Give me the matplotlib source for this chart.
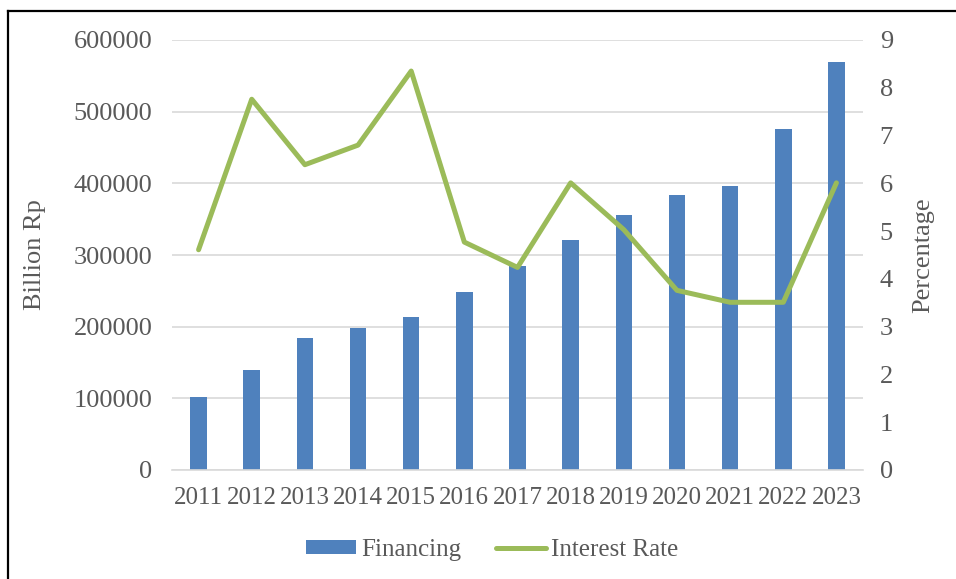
import matplotlib
matplotlib.use("Agg")
import matplotlib.pyplot as plt
from matplotlib.patches import Patch
from matplotlib.lines import Line2D
import numpy as np

years = ["2011", "2012", "2013", "2014", "2015", "2016", "2017",
         "2018", "2019", "2020", "2021", "2022", "2023"]
financing = [101600, 139800, 183500, 198500, 212900, 247900, 285100,
             320500, 355500, 384000, 396500, 475200, 569300]
interest_rate = [4.61, 7.76, 6.39, 6.80, 8.35, 4.77, 4.24,
                 6.01, 5.03, 3.76, 3.51, 3.51, 6.01]

BLUE = "#4f81bd"
GREEN = "#9bbb59"
TEXT = "#595959"
GRID = "#d9d9d9"

plt.rcParams["font.family"] = ["Liberation Serif", "DejaVu Serif"]
FS = 18
FS_Y = 19

fig = plt.figure(figsize=(9.56, 5.79), dpi=100)
ax = fig.add_axes([172 / 956, 1 - 470 / 579, 691 / 956, 430 / 579])
ax2 = ax.twinx()

x = np.arange(len(years))
ax.bar(x, financing, width=0.31, color=BLUE, zorder=2)
ax2.plot(x, interest_rate, color=GREEN, lw=3.6, solid_capstyle="round",
         solid_joinstyle="round", zorder=3)

ax.set_xlim(-0.5, len(years) - 0.5)
ax.set_ylim(0, 600000)
ax.set_yticks(np.arange(0, 600001, 100000))
ax.set_yticklabels([f"{int(v)}" for v in np.arange(0, 600001, 100000)])
ax2.set_ylim(0, 9)
ax2.set_yticks(range(0, 10))

ax.set_xticks(x)
ax.set_xticklabels(years)

ax.yaxis.grid(True, color=GRID, lw=1.2, zorder=0)
ax.set_axisbelow(True)

for a in (ax, ax2):
    for s in a.spines.values():
        s.set_visible(False)
    a.tick_params(length=0, labelcolor=TEXT)
ax.spines["bottom"].set_visible(True)
ax.spines["bottom"].set_color(GRID)
ax.spines["bottom"].set_linewidth(1.2)

ax.tick_params(axis="y", pad=14, labelsize=FS_Y)
ax.tick_params(axis="x", pad=12, labelsize=FS)
ax2.tick_params(axis="y", pad=12, labelsize=FS_Y)

ax.set_ylabel("Billion Rp", fontsize=FS_Y, color=TEXT, labelpad=20)
ax2.set_ylabel("Percentage", fontsize=FS_Y, color=TEXT, labelpad=14)

handles = [Patch(facecolor=BLUE, edgecolor="none", label="Financing"),
           Line2D([0], [0], color=GREEN, lw=3.6, solid_capstyle="round",
                  label="Interest Rate")]
fig.legend(handles=handles, loc="center", bbox_to_anchor=(492 / 956, 1 - 550 / 579),
           ncol=2, frameon=False, fontsize=FS, labelcolor=TEXT,
           handlelength=2.0, handleheight=0.5, handletextpad=0.2,
           columnspacing=1.4)

# outer frame (left and top edges)
fig.add_artist(Line2D([7.5 / 956, 7.5 / 956], [0, 1 - 11 / 579],
                      transform=fig.transFigure, color="black", lw=1.6))
fig.add_artist(Line2D([7.5 / 956, 1], [1 - 11 / 579, 1 - 11 / 579],
                      transform=fig.transFigure, color="black", lw=1.6))

fig.savefig("out.png", dpi=100)
